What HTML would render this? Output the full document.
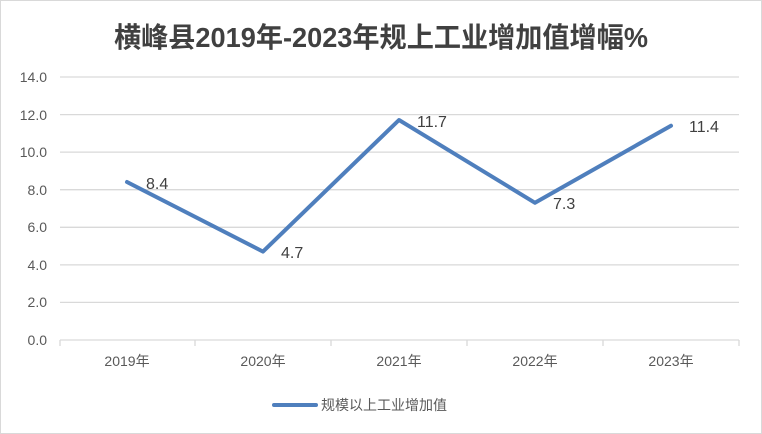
<!DOCTYPE html>
<html><head><meta charset="utf-8"><style>
body{margin:0;background:#fff}
svg{display:block}
</style></head><body>
<svg width="762" height="434" xmlns="http://www.w3.org/2000/svg" font-family="'Liberation Sans','Noto Sans CJK SC',sans-serif">
<rect x="0.5" y="0.5" width="761" height="433" fill="#fff" stroke="#d9d9d9"/>
<text x="381" y="47" text-anchor="middle" font-size="28" font-weight="bold" fill="#404040" textLength="534" lengthAdjust="spacingAndGlyphs">横峰县2019年-2023年规上工业增加值增幅%</text>
<g stroke="#d9d9d9" stroke-width="1.3">
<line x1="60" x2="739" y1="77" y2="77"/>
<line x1="60" x2="739" y1="114.6" y2="114.6"/>
<line x1="60" x2="739" y1="152.1" y2="152.1"/>
<line x1="60" x2="739" y1="189.7" y2="189.7"/>
<line x1="60" x2="739" y1="227.3" y2="227.3"/>
<line x1="60" x2="739" y1="264.9" y2="264.9"/>
<line x1="60" x2="739" y1="302.4" y2="302.4"/>
<line x1="60" x2="739" y1="340" y2="340"/>
<line x1="195" x2="195" y1="340" y2="346"/>
<line x1="331" x2="331" y1="340" y2="346"/>
<line x1="467" x2="467" y1="340" y2="346"/>
<line x1="603" x2="603" y1="340" y2="346"/>
<line x1="739" x2="739" y1="340" y2="346"/>
<line x1="60" x2="60" y1="340" y2="346"/>
</g>
<g font-size="14" fill="#595959" text-anchor="end">
<text x="47" y="82">14.0</text>
<text x="47" y="120">12.0</text>
<text x="47" y="157">10.0</text>
<text x="47" y="195">8.0</text>
<text x="47" y="232">6.0</text>
<text x="47" y="270">4.0</text>
<text x="47" y="307">2.0</text>
<text x="47" y="345">0.0</text>
</g>
<g font-size="14" fill="#595959" text-anchor="middle">
<text x="127" y="366">2019年</text>
<text x="263" y="366">2020年</text>
<text x="399" y="366">2021年</text>
<text x="535" y="366">2022年</text>
<text x="671" y="366">2023年</text>
</g>
<polyline points="127,182 263,251.6 399,120 535,202.8 671,125.7" fill="none" stroke="#4f7fbd" stroke-width="4" stroke-linejoin="round" stroke-linecap="round"/>
<g font-size="16" fill="#404040">
<text x="146" y="189">8.4</text>
<text x="281" y="258">4.7</text>
<text x="417" y="127">11.7</text>
<text x="553" y="209">7.3</text>
<text x="689" y="132">11.4</text>
</g>
<line x1="274" x2="316" y1="405" y2="405" stroke="#4f7fbd" stroke-width="4" stroke-linecap="round"/>
<text x="321" y="410" font-size="14" fill="#595959">规模以上工业增加值</text>
</svg>
</body></html>
